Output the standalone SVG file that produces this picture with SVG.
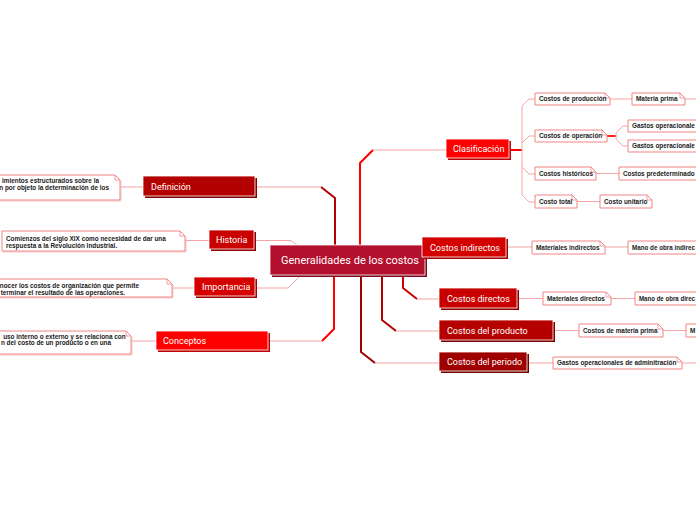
<svg xmlns="http://www.w3.org/2000/svg" width="696" height="520" viewBox="0 0 696 520">
<style>
.nt{font-family:Roboto,"Liberation Sans",sans-serif;font-size:9px;fill:#fff}
.ct{font-family:Roboto,"Liberation Sans",sans-serif;font-size:11px;fill:#fff}
.st{font-family:"Liberation Sans",Arial,sans-serif;font-size:6.4px;font-weight:bold;fill:#1a1a1a}
.box{fill:#fff;stroke:#f08585;stroke-width:1}
.fold{fill:none;stroke:#f08585;stroke-width:0.8}
.sh{fill:none;stroke:#f7c4c4;stroke-width:1}
.main{stroke:#fff;stroke-width:0.8}
.thin{fill:none;stroke:#f4a4a4;stroke-width:1}
.thick{fill:none;stroke-width:2;stroke-linejoin:round}
</style>
<rect width="696" height="520" fill="#fff"/>
<g id="connectors">
  <path class="thick" stroke="#ff0000" d="M360 246 V163 L373 150"/>
  <path class="thin" stroke="#f99" d="M373 150 H446"/>
  <path class="thick" stroke="#b30000" d="M335 246 V198 L321 187"/>
  <path class="thin" stroke="#e98a8a" d="M321 187 H255"/>
  <path class="thin" stroke="#f08080" d="M254 240.5 H291 L298 246"/>
  <path class="thin" stroke="#e86060" d="M255 288 H288 L300 276"/>
  <path class="thick" stroke="#ff0000" d="M334 274 V329 L322 341"/>
  <path class="thin" stroke="#f77" d="M322 341 H268"/>
  <path class="thick" stroke="#c80000" d="M403 274 V288 L417 299"/>
  <path class="thin" stroke="#ec9a9a" d="M417 299 H439"/>
  <path class="thick" stroke="#b50000" d="M382 274 V320 L396 331"/>
  <path class="thin" stroke="#ea9a9a" d="M396 331 H439"/>
  <path class="thick" stroke="#a00000" d="M361 274 V352 L375 363"/>
  <path class="thin" stroke="#e0a0a0" d="M375 363 H439"/>
  <path class="thick" stroke="#ff0000" d="M509 150 H522"/>
  <path class="thin" d="M535 99 H529 L522 106 V195 L529 202 H535 M522 143 L529 136 H535 M522 167 L529 174 H535"/>
  <path class="thick" stroke="#ff2020" stroke-width="1.5" d="M607 136 H616"/>
  <path class="thin" d="M628 126 H623 L616 133 V139 L623 146 H628"/>
  <path class="thin" d="M610 99 H632 M685 99 H696 M596 173.5 H619 M577 201.5 H600 M506 247 H532 M605 247 H628 M517 298.5 H543 M611 298.5 H635 M553 330.5 H579 M663 330.5 H686 M527 363 H553 M682 363 H696 M120 187 H143 M185 240.5 H209 M172 288 H194 M131 341 H156"/>
</g>
<g id="center">
  <rect x="272" y="247" width="155" height="30" fill="#7e0a20"/>
  <rect class="main" x="270" y="245" width="155" height="30" fill="#b3102e"/>
  <text class="ct" x="281" y="264">Generalidades de los costos</text>
</g>
<g id="clasificacion">
  <rect x="448" y="141" width="63" height="19" fill="#c00000"/>
  <rect class="main" x="446" y="139" width="63" height="19" fill="#ff0000"/>
  <text class="nt" x="453" y="152">Clasificación</text>
</g>
<g id="costos-indirectos">
  <rect x="424" y="239" width="84" height="20" fill="#a00000"/>
  <rect class="main" x="422" y="237" width="84" height="20" fill="#d40000"/>
  <text class="nt" x="430" y="250.5">Costos indirectos</text>
</g>
<g id="costos-directos">
  <rect x="441" y="290" width="78" height="20" fill="#900000"/>
  <rect class="main" x="439" y="288" width="78" height="20" fill="#c80000"/>
  <text class="nt" x="447" y="301.5">Costos directos</text>
</g>
<g id="costos-producto">
  <rect x="441" y="322" width="114" height="20" fill="#800000"/>
  <rect class="main" x="439" y="320" width="114" height="20" fill="#b50000"/>
  <text class="nt" x="447" y="333.5">Costos del producto</text>
</g>
<g id="costos-periodo">
  <rect x="441" y="354" width="88" height="19" fill="#700000"/>
  <rect class="main" x="439" y="352" width="88" height="19" fill="#9e0000"/>
  <text class="nt" x="447" y="365">Costos del periodo</text>
</g>
<g id="definicion">
  <rect x="145" y="178" width="112" height="20" fill="#800000"/>
  <rect class="main" x="143" y="176" width="112" height="20" fill="#b30000"/>
  <text class="nt" x="151" y="189.5">Definición</text>
</g>
<g id="historia">
  <rect x="211" y="232" width="45" height="19" fill="#900000"/>
  <rect class="main" x="209" y="230" width="45" height="19" fill="#c80000"/>
  <text class="nt" x="216" y="243">Historia</text>
</g>
<g id="importancia">
  <rect x="196" y="279" width="61" height="19" fill="#a00000"/>
  <rect class="main" x="194" y="277" width="61" height="19" fill="#d50000"/>
  <text class="nt" x="202" y="290">Importancia</text>
</g>
<g id="conceptos">
  <rect x="158" y="333" width="112" height="19" fill="#c00000"/>
  <rect class="main" x="156" y="331" width="112" height="19" fill="#ff0000"/>
  <text class="nt" x="163" y="344">Conceptos</text>
</g>
<g id="def-texto">
  <path class="sh" d="M-10 201 H121 V181"/>
  <path class="box" d="M-10 175 H115 L120 180 V200 H-10 Z"/>
  <path class="fold" d="M115 175 V180 H120"/>
  <text class="st" x="99" y="182.5" text-anchor="end">imientos estructurados sobre la</text>
  <text class="st" x="109" y="190" text-anchor="end">n por objeto la determinación de los</text>
</g>
<g id="historia-texto">
  <path class="sh" d="M3 252 H186 V237"/>
  <path class="box" d="M2 231 H180 L185 236 V251 H2 Z"/>
  <path class="fold" d="M180 231 V236 H185"/>
  <text class="st" x="6" y="241">Comienzos del siglo XIX como necesidad de dar una</text>
  <text class="st" x="6" y="247.5">respuesta a la Revolución Industrial.</text>
</g>
<g id="importancia-texto">
  <path class="sh" d="M-10 298 H173 V285"/>
  <path class="box" d="M-10 279 H167 L172 284 V297 H-10 Z"/>
  <path class="fold" d="M167 279 V284 H172"/>
  <text class="st" x="139" y="288.3" text-anchor="end">nocer los costos de organización que permite</text>
  <text class="st" x="125" y="294.8" text-anchor="end">terminar el resultado de las operaciones.</text>
</g>
<g id="conceptos-texto">
  <path class="sh" d="M-10 355 H132 V337"/>
  <path class="box" d="M-10 331 H126 L131 336 V354 H-10 Z"/>
  <path class="fold" d="M126 331 V336 H131"/>
  <text class="st" x="125.7" y="338.5" text-anchor="end">uso interno o externo y se relaciona con</text>
  <text class="st" x="111" y="345" text-anchor="end">n del costo de un producto o en una</text>
</g>
<g id="costos-produccion">
  <path class="box" d="M535 93 H605 L610 98 V105 H535 Z"/><path class="fold" d="M605 93 V98 H610"/>
  <text class="st" x="539" y="101.3">Costos de producción</text>
</g>
<g id="materia-prima">
  <path class="box" d="M632 93 H680 L685 98 V105 H632 Z"/><path class="fold" d="M680 93 V98 H685"/>
  <text class="st" x="636" y="101.3">Materia prima</text>
</g>
<g id="costos-operacion">
  <path class="box" d="M535 130 H602 L607 135 V142 H535 Z"/><path class="fold" d="M602 130 V135 H607"/>
  <text class="st" x="539" y="138.3">Costos de operación</text>
</g>
<g id="gastos-op-1">
  <path class="box" d="M628 120 H710 V132 H628 Z"/>
  <text class="st" x="632" y="128.3">Gastos operacionale</text>
</g>
<g id="gastos-op-2">
  <path class="box" d="M628 140 H710 V152 H628 Z"/>
  <text class="st" x="632" y="148.3">Gastos operacionale</text>
</g>
<g id="costos-historicos">
  <path class="box" d="M535 167 H591 L596 172 V180 H535 Z"/><path class="fold" d="M591 167 V172 H596"/>
  <text class="st" x="539" y="175.8">Costos históricos</text>
</g>
<g id="costos-predeterminados">
  <path class="box" d="M619 167 H710 V180 H619 Z"/>
  <text class="st" x="623" y="175.8">Costos predeterminado</text>
</g>
<g id="costo-total">
  <path class="box" d="M535 195 H572 L577 200 V208 H535 Z"/><path class="fold" d="M572 195 V200 H577"/>
  <text class="st" x="539" y="203.8">Costo total</text>
</g>
<g id="costo-unitario">
  <path class="box" d="M600 195 H647 L652 200 V208 H600 Z"/><path class="fold" d="M647 195 V200 H652"/>
  <text class="st" x="604" y="203.8">Costo unitario</text>
</g>
<g id="materiales-indirectos">
  <path class="box" d="M532 241 H600 L605 246 V254 H532 Z"/><path class="fold" d="M600 241 V246 H605"/>
  <text class="st" x="536" y="249.8">Materiales indirectos</text>
</g>
<g id="mano-obra-indirecta">
  <path class="box" d="M628 241 H710 V254 H628 Z"/>
  <text class="st" x="632" y="249.8" textLength="63" lengthAdjust="spacingAndGlyphs">Mano de obra indirec</text>
</g>
<g id="materiales-directos">
  <path class="box" d="M543 292 H606 L611 297 V305 H543 Z"/><path class="fold" d="M606 292 V297 H611"/>
  <text class="st" x="547" y="300.8">Materiales directos</text>
</g>
<g id="mano-obra-directa">
  <path class="box" d="M635 292 H710 V305 H635 Z"/>
  <text class="st" x="639" y="300.8" textLength="56" lengthAdjust="spacingAndGlyphs">Mano de obra direc</text>
</g>
<g id="costos-materia-prima">
  <path class="box" d="M579 324 H658 L663 329 V337 H579 Z"/><path class="fold" d="M658 324 V329 H663"/>
  <text class="st" x="583" y="332.8">Costos de materia prima</text>
</g>
<g id="m-node">
  <path class="box" d="M686 324 H710 V337 H686 Z"/>
  <text class="st" x="690" y="332.8">M</text>
</g>
<g id="gastos-adm">
  <path class="box" d="M553 357 H677 L682 362 V369 H553 Z"/><path class="fold" d="M677 357 V362 H682"/>
  <text class="st" x="557" y="365.3">Gastos operacionales de adminitración</text>
</g>
</svg>
